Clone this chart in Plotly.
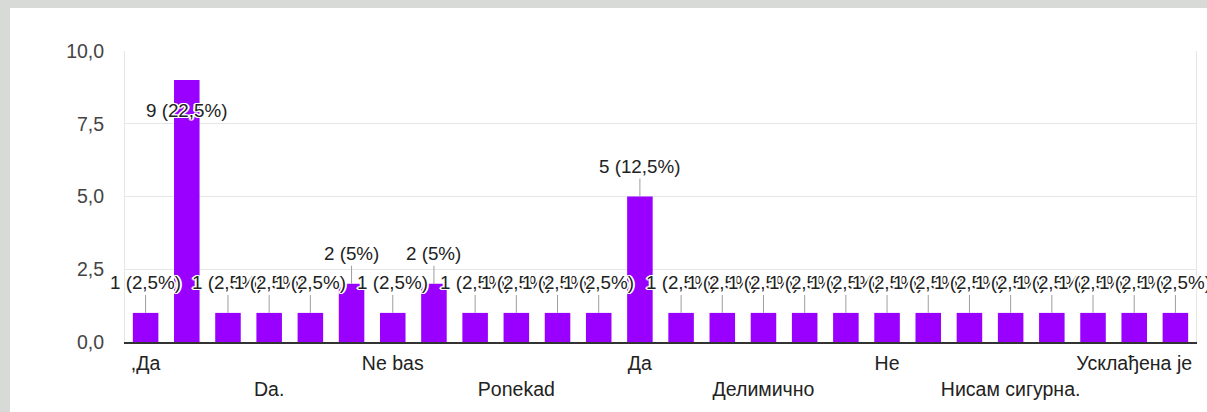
import plotly.graph_objects as go

# ---- data ----
values = [1, 9, 1, 1, 1, 2, 1, 2, 1, 1, 1, 1, 5, 1, 1, 1, 1, 1, 1, 1, 1, 1, 1, 1, 1, 1]
tick_index = [0, 3, 6, 9, 12, 15, 18, 21, 24]
tick_labels = [",Да", "Da.", "Ne bas", "Ponekad", "Да", "Делимично", "Не", "Нисам сигурна.", "Усклађена је"]
y_ticks = [0, 2.5, 5, 7.5, 10]

total = sum(values)
x = list(range(len(values)))

def pct_text(v):
    p = 100.0 * v / total
    s = ("%.1f" % p).rstrip("0").rstrip(".").replace(".", ",")
    return f"{v} ({s}%)"

FONT = "Arial, 'Liberation Sans', sans-serif"
PURPLE = "#9900ff"

fig = go.Figure()
fig.add_trace(go.Bar(x=x, y=values, marker=dict(color=PURPLE, line=dict(width=0)),
                     hoverinfo="skip"))

halo = ("1px 0 0 #fff, -1px 0 0 #fff, 0 1px 0 #fff, 0 -1px 0 #fff, "
        "1px 1px 0 #fff, -1px -1px 0 #fff, 1px -1px 0 #fff, -1px 1px 0 #fff, "
        "2px 0 0 #fff, -2px 0 0 #fff")

annotations = []
for xi, v in zip(x, values):
    ay = 30 if v >= 8 else -30
    annotations.append(dict(
        x=xi, y=v, xref="x", yref="y", text=pct_text(v),
        showarrow=True, arrowhead=0, arrowwidth=1, arrowcolor="#9e9e9e",
        ax=0, ay=ay, standoff=0,
        font=dict(family=FONT, size=18.8, color="#222222", shadow=halo),
    ))

ticktext = []
for i, t in enumerate(tick_labels):
    ticktext.append(t if i % 2 == 0 else " <br>" + t)

fig.update_layout(
    width=1207, height=412,
    margin=dict(l=125, r=11, t=51, b=70),
    paper_bgcolor="#d8dad8",
    plot_bgcolor="#ffffff",
    separators=", ",
    bargap=0.38,
    showlegend=False,
    font=dict(family=FONT, size=19, color="#222222"),
    annotations=annotations,
    shapes=[dict(type="rect", xref="paper", yref="paper",
                 x0=-115 / 1071, x1=1.02, y0=-0.3, y1=1 + 43 / 291,
                 fillcolor="#ffffff", line=dict(width=0), layer="below")],
    xaxis=dict(
        range=[-0.5, len(values) - 0.5],
        tickmode="array", tickvals=tick_index, ticktext=ticktext,
        showgrid=False, zeroline=False,
        showline=True, linecolor="#333333", linewidth=2,
        ticks="outside", ticklen=3, tickcolor="rgba(0,0,0,0)",
        tickfont=dict(family=FONT, size=19.5, color="#222222"),
        tickangle=0,
    ),
    yaxis=dict(
        range=[0, 10], tickmode="array", tickvals=y_ticks, tickformat=".1f",
        showgrid=True, gridcolor="#e6e6e6", gridwidth=1,
        zeroline=False,
        showline=True, linecolor="#e6e6e6", linewidth=1, mirror=True,
        ticks="outside", ticklen=16, tickcolor="rgba(0,0,0,0)",
        tickfont=dict(family=FONT, size=19.5, color="#444444"),
    ),
)

fig.write_html("out.html",
               config={"displayModeBar": False},
               post_script="document.body.style.margin='0';document.body.style.padding='0';")
